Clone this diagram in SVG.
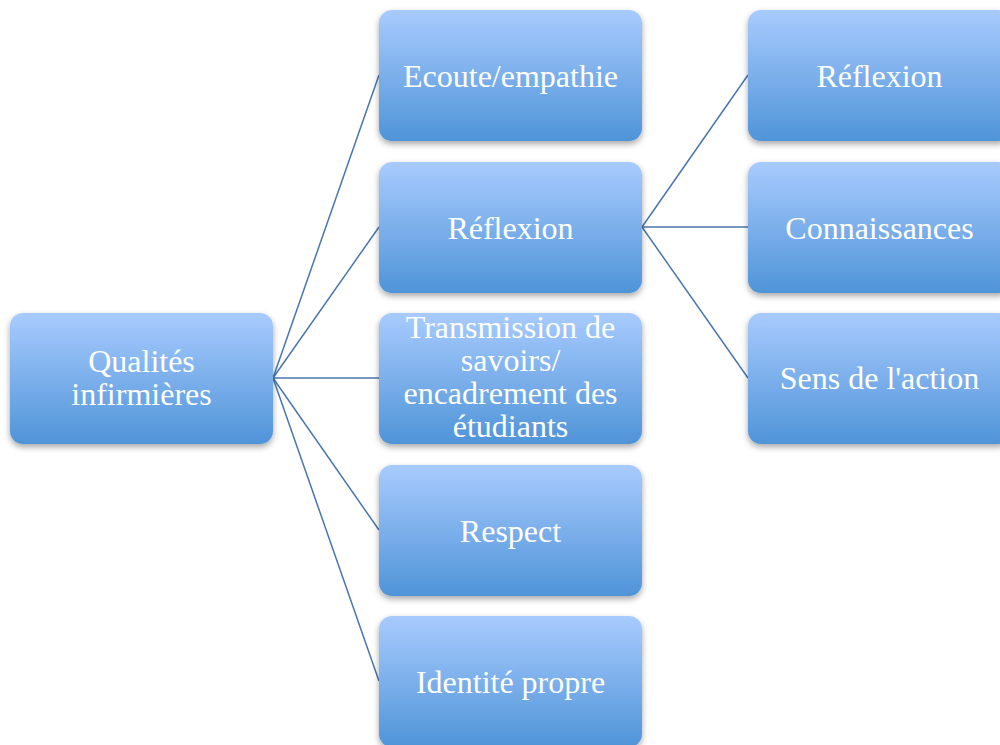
<svg xmlns="http://www.w3.org/2000/svg" width="1000" height="745" viewBox="0 0 1000 745">
<defs>
<linearGradient id="g" x1="0" y1="0" x2="0" y2="1">
<stop offset="0" stop-color="#a8cbfe"/>
<stop offset="1" stop-color="#4f94d8"/>
</linearGradient>
<filter id="sh" x="-10%" y="-10%" width="120%" height="130%">
<feDropShadow dx="0" dy="3" stdDeviation="3" flood-color="#000" flood-opacity="0.35"/>
</filter>
<style>
.box{fill:url(#g);filter:url(#sh);}
.t{font-family:"Liberation Serif","Times New Roman",serif;font-size:32px;fill:#ffffff;text-anchor:middle;}
.c{stroke:#4a76ad;stroke-width:1.5;fill:none;}
</style>
</defs>
<rect width="1000" height="745" fill="#ffffff"/>
<g id="connectors">
<line class="c" x1="273" y1="378" x2="379" y2="75"/>
<line class="c" x1="273" y1="378" x2="379" y2="227"/>
<line class="c" x1="273" y1="378" x2="379" y2="378"/>
<line class="c" x1="273" y1="378" x2="379" y2="530"/>
<line class="c" x1="273" y1="378" x2="379" y2="681"/>
<line class="c" x1="642" y1="227" x2="748" y2="75"/>
<line class="c" x1="642" y1="227" x2="748" y2="227"/>
<line class="c" x1="642" y1="227" x2="748" y2="378"/>
</g>
<g id="root">
<rect class="box" x="10" y="313" width="263" height="131" rx="13"/>
<text class="t" x="141.5" y="372">Qualités</text>
<text class="t" x="141.5" y="405">infirmières</text>
</g>
<g id="ecoute">
<rect class="box" x="379" y="10" width="263" height="131" rx="13"/>
<text class="t" x="510.5" y="87">Ecoute/empathie</text>
</g>
<g id="reflexion">
<rect class="box" x="379" y="162" width="263" height="131" rx="13"/>
<text class="t" x="510.5" y="239">Réflexion</text>
</g>
<g id="transmission">
<rect class="box" x="379" y="313" width="263" height="131" rx="13"/>
<text class="t" x="510.5" y="338">Transmission de</text>
<text class="t" x="510.5" y="371">savoirs/</text>
<text class="t" x="510.5" y="404">encadrement des</text>
<text class="t" x="510.5" y="437">étudiants</text>
</g>
<g id="respect">
<rect class="box" x="379" y="465" width="263" height="131" rx="13"/>
<text class="t" x="510.5" y="542">Respect</text>
</g>
<g id="identite">
<rect class="box" x="379" y="616" width="263" height="131" rx="13"/>
<text class="t" x="510.5" y="693">Identité propre</text>
</g>
<g id="reflexion2">
<rect class="box" x="748" y="10" width="263" height="131" rx="13"/>
<text class="t" x="879.5" y="87">Réflexion</text>
</g>
<g id="connaissances">
<rect class="box" x="748" y="162" width="263" height="131" rx="13"/>
<text class="t" x="879.5" y="239">Connaissances</text>
</g>
<g id="sens">
<rect class="box" x="748" y="313" width="263" height="131" rx="13"/>
<text class="t" x="879.5" y="389">Sens de l'action</text>
</g>
</svg>
